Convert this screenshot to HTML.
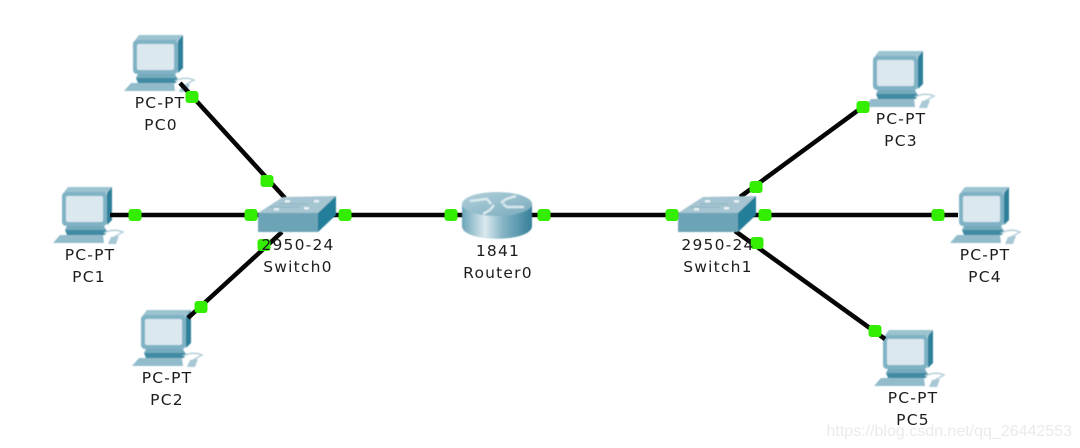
<!DOCTYPE html>
<html><head><meta charset="utf-8"><style>
html,body{margin:0;padding:0;background:#fff}
svg{display:block}
.t{font-family:"DejaVu Sans",sans-serif;font-size:15.5px;fill:#1c1c1c;text-anchor:middle;letter-spacing:1.2px;filter:url(#b)}
</style></head><body>
<svg width="1080" height="448" viewBox="0 0 1080 448" xmlns="http://www.w3.org/2000/svg">
<defs>
<filter id="b" x="-10%" y="-10%" width="120%" height="120%"><feGaussianBlur stdDeviation="0.3"/></filter>
<filter id="s" x="-10%" y="-10%" width="120%" height="120%"><feGaussianBlur stdDeviation="0.45"/></filter>
<linearGradient id="rg" x1="0" x2="1" y1="0" y2="0">
<stop offset="0" stop-color="#6aa4b8"/><stop offset=".33" stop-color="#dbe9ee"/><stop offset=".58" stop-color="#86b5c6"/><stop offset="1" stop-color="#367f99"/></linearGradient>
<linearGradient id="rt" x1="0" x2="1" y1="0" y2="1">
<stop offset="0" stop-color="#b3d1db"/><stop offset="1" stop-color="#78abbd"/></linearGradient>
<g id="pc" filter="url(#s)">
<polygon points="2,5 6,0 50,0 45,6" fill="#9cc3d0"/>
<polygon points="45,6 50,0 50,33 45,38" fill="#2f7f9a"/>
<rect x="0" y="5" width="45" height="34" rx="4" fill="#7fb2c4"/>
<rect x="4" y="9" width="37" height="26" rx="2" fill="#dbe8ef"/>
<polygon points="5,39 42,39 44,43 3,43" fill="#74abbe"/>
<polygon points="3,43 45,43 43,48 5,48" fill="#3f8aa3"/>
<polygon points="-2,48 41,48 42,56 -9,56" fill="#92bccb"/>
<path d="M42 46 Q52 41 61 45 L52 50" fill="none" stroke="#b5cfd9" stroke-width="1.5"/>
<polygon points="49,50 57,49 54,57 46,57" fill="#a7c8d4"/>
</g>
<g id="sw" filter="url(#s)">
<polygon points="0,17 25,1 78,0 60,17" fill="#a4c5d1"/>
<polygon points="60,17 78,0 78,19 60,36" fill="#247e99"/>
<rect x="0" y="17" width="60" height="19" fill="#6ca3b7"/>
<g fill="#e8f2f5"><rect x="27" y="4" width="5" height="2.5"/><rect x="56" y="4" width="5" height="2.5"/><rect x="16" y="12" width="5" height="2.5"/><rect x="46" y="11" width="5" height="2.5"/></g>
<path d="M22 8H50M12 11H42" stroke="#8bb3c2" stroke-width="1"/>
</g>
<rect id="d" x="-6.5" y="-6" width="13" height="12" rx="3" fill="#33ee00"/>
</defs>

<use href="#pc" x="133" y="35"/>
<use href="#pc" x="62" y="187"/>
<use href="#pc" x="141" y="310"/>
<use href="#pc" x="873" y="51"/>
<use href="#pc" x="959" y="187"/>
<use href="#pc" x="883" y="330"/>

<g stroke="#050505" stroke-width="4.5" fill="none">
<line x1="180" y1="83" x2="285" y2="198"/>
<line x1="110" y1="215" x2="262" y2="215"/>
<line x1="320" y1="215" x2="470" y2="215"/>
<line x1="188" y1="318" x2="282" y2="232"/>
<line x1="525" y1="215" x2="690" y2="215"/>
<line x1="740" y1="197" x2="868" y2="103"/>
<line x1="750" y1="215" x2="958" y2="215"/>
<line x1="735" y1="231" x2="885" y2="339"/>
</g>

<use href="#sw" x="258" y="196"/>
<use href="#sw" x="678" y="196"/>

<g filter="url(#s)">
<path d="M462 204 V226 C462 243 532 243 532 226 V204 Z" fill="url(#rg)"/>
<ellipse cx="497" cy="204" rx="35" ry="12" fill="url(#rt)"/>
<g stroke="#d9e8ed" stroke-width="2.5" fill="none">
<path d="M470 201 L487 199 L491 204"/><path d="M524 207 L507 207 L503 204"/><path d="M516 196 L506 199 L501 203"/><path d="M483 214 L490 210 L494 205"/>
</g>
</g>

<use href="#d" x="192" y="97"/><use href="#d" x="267" y="181"/>
<use href="#d" x="135" y="215"/><use href="#d" x="251" y="215"/>
<use href="#d" x="345" y="215"/><use href="#d" x="264" y="245"/>
<use href="#d" x="201" y="307"/><use href="#d" x="451" y="215"/>
<use href="#d" x="544" y="215"/><use href="#d" x="672" y="215"/>
<use href="#d" x="756" y="187"/><use href="#d" x="765" y="215"/>
<use href="#d" x="757" y="243"/><use href="#d" x="938" y="215"/>
<use href="#d" x="863" y="107"/><use href="#d" x="875" y="331"/>

<g class="labels">
<text class="t" x="160" y="108">PC-PT</text><text class="t" x="161" y="130">PC0</text>
<text class="t" x="90" y="260">PC-PT</text><text class="t" x="89" y="282">PC1</text>
<text class="t" x="167" y="383">PC-PT</text><text class="t" x="167" y="405">PC2</text>
<text class="t" x="901" y="124">PC-PT</text><text class="t" x="901" y="146">PC3</text>
<text class="t" x="985" y="260">PC-PT</text><text class="t" x="985" y="282">PC4</text>
<text class="t" x="913" y="403">PC-PT</text><text class="t" x="913" y="425">PC5</text>
<text class="t" x="298" y="250">2950-24</text><text class="t" x="298" y="272">Switch0</text>
<text class="t" x="718" y="250">2950-24</text><text class="t" x="718" y="272">Switch1</text>
<text class="t" x="498" y="256">1841</text><text class="t" x="498" y="278">Router0</text>
</g>

<text x="1072" y="436" text-anchor="end" font-family="'Liberation Sans',sans-serif" font-size="16" fill="#e6e6e6" fill-opacity=".85">https://blog.csdn.net/qq_26442553</text>
</svg>
</body></html>
